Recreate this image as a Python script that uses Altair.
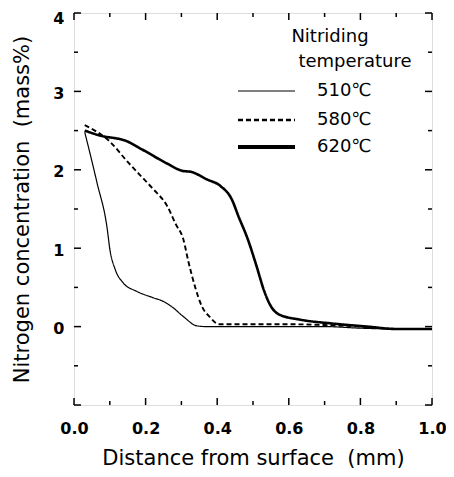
import altair as alt
import pandas as pd

# ---- data ----
series_names = ["510℃", "580℃", "620℃"]

x_510 = [0.03, 0.064, 0.093, 0.10, 0.115, 0.137, 0.175, 0.22, 0.25, 0.277, 0.305, 0.343, 0.37, 0.5, 0.6, 0.7, 0.8, 0.9, 1.0]
y_510 = [2.48, 1.84, 1.24, 0.99, 0.73, 0.56, 0.45, 0.37, 0.32, 0.24, 0.13, 0.01, 0.0, 0.0, 0.0, 0.0, -0.02, -0.03, -0.03]

x_580 = [0.03, 0.10, 0.15, 0.185, 0.22, 0.26, 0.285, 0.305, 0.32, 0.338, 0.357, 0.38, 0.405, 0.5, 0.6, 0.7, 0.8, 0.9, 1.0]
y_580 = [2.57, 2.36, 2.10, 1.93, 1.76, 1.54, 1.30, 1.12, 0.82, 0.51, 0.26, 0.12, 0.03, 0.03, 0.03, 0.02, 0.0, -0.03, -0.03]

x_620 = [0.03, 0.07, 0.15, 0.19, 0.26, 0.30, 0.33, 0.37, 0.41, 0.44, 0.46, 0.485, 0.51, 0.53, 0.55, 0.575, 0.63, 0.72, 0.82, 0.9, 1.0]
y_620 = [2.50, 2.44, 2.36, 2.26, 2.08, 1.99, 1.97, 1.88, 1.79, 1.63, 1.40, 1.12, 0.77, 0.47, 0.26, 0.15, 0.09, 0.04, 0.0, -0.03, -0.03]

x_major_ticks = [0.0, 0.2, 0.4, 0.6, 0.8, 1.0]
x_minor_ticks = [0.1, 0.3, 0.5, 0.7, 0.9]
y_major_ticks = [-1, 0, 1, 2, 3, 4]
y_minor_ticks = [-0.5, 0.5, 1.5, 2.5, 3.5]
y_label_values = [0, 1, 2, 3, 4]

NBSP = "\u00a0"
x_title = "Distance from surface" + NBSP + " (mm)"
y_title = "Nitrogen concentration" + NBSP + " (mass%)"
legend_title_1 = "Nitriding"
legend_title_2 = "temperature"

W, H = 358, 392
FONT = "DejaVu Sans"

rows = []
for name, xs, ys in [(series_names[0], x_510, y_510),
                     (series_names[1], x_580, y_580),
                     (series_names[2], x_620, y_620)]:
    for i, (a, b) in enumerate(zip(xs, ys)):
        rows.append({"x": a, "y": b, "series": name, "order": i})
df = pd.DataFrame(rows)
one = pd.DataFrame({"k": [0]})

xscale = alt.Scale(domain=[0, 1], nice=False, zero=False)
yscale = alt.Scale(domain=[-1, 4], nice=False, zero=False)

xaxis = alt.Axis(values=x_major_ticks, format=".1f", ticks=False, domain=False, grid=False,
                 labelFont=FONT, labelFontWeight="bold", labelFontSize=16, labelColor="black",
                 labelPadding=15, titleFont=FONT, titleFontSize=21, titleFontWeight="normal",
                 titleColor="black", titlePadding=11, labelFlush=False)
yaxis = alt.Axis(values=y_label_values, format="d", ticks=False, domain=False, grid=False,
                 labelFont=FONT, labelFontWeight="bold", labelFontSize=16, labelColor="black",
                 labelPadding=10,
                 labelOffset={"condition": {"test": "datum.value == 4", "value": 5}, "value": 2},
                 titleFont=FONT, titleFontSize=21, titleFontWeight="normal",
                 titleColor="black", titlePadding=20, labelFlush=False)

lines = alt.Chart(df).mark_line(interpolate="monotone", color="black").encode(
    x=alt.X("x:Q", scale=xscale, axis=xaxis, title=x_title),
    y=alt.Y("y:Q", scale=yscale, axis=yaxis, title=y_title),
    detail="series:N",
    order="order:Q",
    strokeDash=alt.StrokeDash("series:N", scale=alt.Scale(domain=series_names, range=[[1, 0], [5, 3], [1, 0]]), legend=None),
    strokeWidth=alt.StrokeWidth("series:N", scale=alt.Scale(domain=series_names, range=[1.2, 2.6, 3.8]), legend=None),
)

def xticks(vals, length):
    d = pd.DataFrame({"x": vals})
    bottom = alt.Chart(d).mark_rule(color="black", strokeWidth=1.5).encode(
        x=alt.X("x:Q", scale=xscale, axis=xaxis, title=x_title),
        y=alt.value(H), y2=alt.value(H - length))
    top = alt.Chart(d).mark_rule(color="black", strokeWidth=1.5).encode(
        x=alt.X("x:Q", scale=xscale, axis=xaxis, title=x_title),
        y=alt.value(0), y2=alt.value(length))
    return [bottom, top]

def yticks(vals, length):
    d = pd.DataFrame({"y": vals})
    left = alt.Chart(d).mark_rule(color="black", strokeWidth=1.5).encode(
        y=alt.Y("y:Q", scale=yscale, axis=yaxis, title=y_title),
        x=alt.value(0), x2=alt.value(length))
    right = alt.Chart(d).mark_rule(color="black", strokeWidth=1.5).encode(
        y=alt.Y("y:Q", scale=yscale, axis=yaxis, title=y_title),
        x=alt.value(W), x2=alt.value(W - length))
    return [left, right]

tick_layers = xticks(x_major_ticks, 7) + xticks(x_minor_ticks, 4) + yticks(y_major_ticks, 7) + yticks(y_minor_ticks, 4)

# ---- manual legend ----
leg_y = [78, 107, 134]
leg_dash = [[1, 0], [5, 3], [1, 0]]
leg_w = [1.2, 2.6, 3.8]
legend_layers = []
for name, yy, dsh, sw in zip(series_names, leg_y, leg_dash, leg_w):
    legend_layers.append(
        alt.Chart(one).mark_rule(color="black", strokeWidth=sw, strokeDash=dsh).encode(
            x=alt.value(164), x2=alt.value(221), y=alt.value(yy)))
    legend_layers.append(
        alt.Chart(one).mark_text(font=FONT, fontSize=18, align="left", baseline="middle", color="black").encode(
            x=alt.value(243), y=alt.value(yy), text=alt.value(name)))
legend_layers.append(
    alt.Chart(one).mark_text(font=FONT, fontSize=18, align="center", baseline="middle", color="black").encode(
        x=alt.value(256), y=alt.value(24), text=alt.value(legend_title_1)))
legend_layers.append(
    alt.Chart(one).mark_text(font=FONT, fontSize=18, align="center", baseline="middle", color="black").encode(
        x=alt.value(281), y=alt.value(49), text=alt.value(legend_title_2)))

chart = alt.layer(lines, *tick_layers, *legend_layers).properties(
    width=W, height=H,
    autosize=alt.AutoSizeParams(type="none"),
    padding={"left": 66, "top": 5, "right": 14, "bottom": 64},
).configure_view(stroke="black", strokeWidth=2).configure(background="white")

chart.save("out.html", embed_options={"renderer": "svg", "actions": False})
